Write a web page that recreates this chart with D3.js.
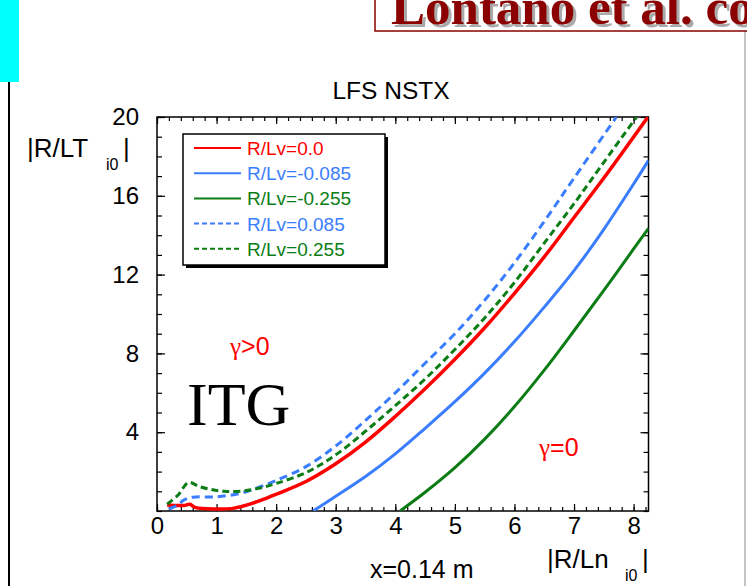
<!DOCTYPE html>
<html>
<head>
<meta charset="utf-8">
<script src="https://cdn.jsdelivr.net/npm/d3@7"></script>
<style>
  body { margin: 0; background: #fff; }
  svg { display: block; font-family: Arial, "Liberation Sans", sans-serif; }
</style>
</head>
<body>
<div id="chart"></div>
<script>
// values, as [|R/Ln_i0|, |R/LT_i0|]
const lv0 = [[0.17,0.3],[0.45,0.28],[0.55,0.34],[0.65,0.17],[1.0,0.1],[1.25,0.12],[1.5,0.3],[1.75,0.55],[2.0,0.85],[2.5,1.5],[3.0,2.4],[3.5,3.5],[4.0,4.8],[4.5,6.2],[5.0,7.7],[5.5,9.3],[6.0,11.05],[6.5,12.9],[7.0,14.9],[7.5,16.9],[8.24,20.0]];
const lvNeg085 = [[2.62,0.0],[3.0,0.75],[3.5,1.75],[4.0,2.9],[4.5,4.2],[5.0,5.55],[5.5,7.0],[6.0,8.6],[6.5,10.35],[7.0,12.2],[7.5,14.3],[8.0,16.6],[8.25,17.8]];
const lvNeg255 = [[4.08,0.0],[4.5,0.95],[5.0,2.2],[5.5,3.65],[6.0,5.3],[6.5,7.15],[7.0,9.15],[7.5,11.2],[8.0,13.3],[8.25,14.35]];
const lvPos085 = [[0.2,0.1],[0.35,0.3],[0.45,0.55],[0.6,0.7],[1.0,0.72],[1.4,0.9],[1.7,1.2],[2.0,1.55],[2.5,2.25],[3.0,3.3],[3.5,4.6],[4.0,6.0],[4.5,7.5],[5.0,9.0],[5.5,10.7],[6.0,12.6],[6.5,14.7],[7.0,16.9],[7.71,20.0]];
const lvPos255 = [[0.17,0.35],[0.35,0.8],[0.53,1.45],[0.7,1.25],[0.9,1.1],[1.12,1.0],[1.4,1.0],[1.7,1.15],[2.0,1.4],[2.5,1.95],[3.0,2.85],[3.5,4.05],[4.0,5.35],[4.5,6.7],[5.0,8.2],[5.5,9.8],[6.0,11.6],[6.5,13.6],[7.0,15.6],[7.5,17.7],[8.05,20.0]];

const seriesNames = ['R/Lv=0.0', 'R/Lv=-0.085', 'R/Lv=-0.255', 'R/Lv=0.085', 'R/Lv=0.255'];
const seriesData = [lv0, lvNeg085, lvNeg255, lvPos085, lvPos255];

const xTicks = [0, 1, 2, 3, 4, 5, 6, 7, 8];
const yTicks = [4, 8, 12, 16, 20];

// styles
const colors = ['#ff0000', '#3a7dff', '#0b7d14', '#3a7dff', '#0b7d14'];
const dashes = [null, null, null, '8,5', '7,4'];

const width = 747, height = 586;
const svg = d3.select('#chart').append('svg').attr('width', width).attr('height', height);

// slide decorations
svg.append('rect').attr('x', 0).attr('y', 0).attr('width', 19).attr('height', 82).attr('fill', '#00ffff');
svg.append('line').attr('x1', 9).attr('x2', 9).attr('y1', 82).attr('y2', height)
    .attr('stroke', '#000').attr('stroke-width', 2);
svg.append('line').attr('x1', 745).attr('x2', 745).attr('y1', 31).attr('y2', height)
    .attr('stroke', '#888').attr('stroke-width', 1);
svg.append('rect').attr('x', 375).attr('y', -5).attr('width', 400).attr('height', 36)
    .attr('fill', '#fff').attr('stroke', '#8b0000').attr('stroke-width', 1.5);
const header = svg.append('g')
    .attr('font-family', '"Liberation Serif", "Times New Roman", serif').attr('font-weight', 'bold')
    .attr('font-size', 51);
header.append('text').attr('x', 394).attr('y', 27).attr('fill', '#aaa').text('Lontano et al. con');
header.append('text').attr('x', 391).attr('y', 24).attr('fill', '#8b0000').text('Lontano et al. con');

// plot
const plotLeft = 157, plotRight = 648.5, plotTop = 117, plotBottom = 511;
const x = d3.scaleLinear().domain([0, 8.25]).range([plotLeft, plotRight]);
const y = d3.scaleLinear().domain([0, 20]).range([plotBottom, plotTop]);

svg.append('text').attr('x', 391).attr('y', 99).attr('text-anchor', 'middle')
    .attr('font-size', 24.5).text('LFS NSTX');

const minorX = d3.range(0, 8.25, 0.2);
const minorY = d3.range(0, 20.01, 1);

function tickAxis(axisFn, scale, values, size, pos, labels) {
    const g = svg.append('g').attr('transform', pos)
        .call(axisFn(scale).tickValues(values).tickSize(size).tickPadding(labels ? 6 : 0)
            .tickFormat(labels ? d3.format('d') : ''));
    g.select('.domain').remove();
    g.selectAll('.tick line').attr('stroke', '#000').attr('stroke-width', 1.2);
    g.selectAll('.tick text').attr('font-size', 24).attr('fill', '#000')
        .attr('font-family', 'Arial, "Liberation Sans", sans-serif');
    return g;
}

tickAxis(d3.axisBottom, x, minorX, -4, `translate(0,${plotBottom})`, false);
tickAxis(d3.axisBottom, x, xTicks, -7, `translate(0,${plotBottom})`, true);
tickAxis(d3.axisTop, x, minorX, -4, `translate(0,${plotTop})`, false);
tickAxis(d3.axisTop, x, xTicks, -7, `translate(0,${plotTop})`, false);
tickAxis(d3.axisLeft, y, minorY, -5, `translate(${plotLeft},0)`, false);
tickAxis(d3.axisLeft, y, yTicks, -8, `translate(${plotLeft},0)`, true)
    .selectAll('.tick text').attr('dx', -12);
tickAxis(d3.axisRight, y, minorY, -5, `translate(${plotRight},0)`, false);
tickAxis(d3.axisRight, y, yTicks, -8, `translate(${plotRight},0)`, false);

svg.append('rect').attr('x', plotLeft).attr('y', plotTop)
    .attr('width', plotRight - plotLeft).attr('height', plotBottom - plotTop)
    .attr('fill', 'none').attr('stroke', '#000').attr('stroke-width', 1.5);

svg.append('clipPath').attr('id', 'plotClip').append('rect')
    .attr('x', plotLeft).attr('y', plotTop).attr('width', plotRight - plotLeft).attr('height', plotBottom - plotTop);

const line = d3.line().x(d => x(d[0])).y(d => y(d[1])).curve(d3.curveCatmullRom.alpha(0.5));

svg.append('g').attr('clip-path', 'url(#plotClip)')
    .selectAll('path').data(seriesData).join('path')
    .attr('d', line)
    .attr('fill', 'none')
    .attr('stroke', (d, i) => colors[i])
    .attr('stroke-width', (d, i) => i === 0 ? 3.5 : 3)
    .attr('stroke-dasharray', (d, i) => dashes[i]);

// legend
const lg = svg.append('g');
lg.append('rect').attr('x', 186).attr('y', 137).attr('width', 202).attr('height', 131).attr('fill', '#000');
lg.append('rect').attr('x', 183).attr('y', 134).attr('width', 202).attr('height', 131)
    .attr('fill', '#fff').attr('stroke', '#000').attr('stroke-width', 1.5);
const rows = lg.selectAll('g.row').data(seriesNames).join('g').attr('class', 'row')
    .attr('transform', (d, i) => `translate(0,${148 + i * 25.2})`);
rows.append('line').attr('x1', 194).attr('x2', 241).attr('y1', 0).attr('y2', 0)
    .attr('stroke', (d, i) => colors[i]).attr('stroke-width', 2)
    .attr('stroke-dasharray', (d, i) => dashes[i] ? '5,3' : null);
rows.append('text').attr('x', 247).attr('y', 7).attr('font-size', 19)
    .attr('fill', (d, i) => colors[i]).text(d => d);

// axis titles
const yl = svg.append('text').attr('x', 27).attr('y', 157).attr('font-size', 26);
yl.append('tspan').text('|R/LT');
yl.append('tspan').attr('x', 106).attr('y', 170).attr('font-size', 16).text('i0');
yl.append('tspan').attr('x', 123).attr('y', 157).text('|');

const xl = svg.append('text').attr('x', 547).attr('y', 568).attr('font-size', 26);
xl.append('tspan').text('|R/Ln');
xl.append('tspan').attr('x', 625).attr('y', 581).attr('font-size', 16).text('i0');
xl.append('tspan').attr('x', 642).attr('y', 568).text('|');

svg.append('text').attr('x', 370).attr('y', 578).attr('font-size', 25).text('x=0.14 m');

// annotations
const g1 = svg.append('text').attr('x', 230).attr('y', 355).attr('font-size', 25).attr('fill', '#ff0000');
g1.append('tspan').attr('font-family', '"Liberation Serif", serif').text('γ');
g1.append('tspan').text('>0');
const g2 = svg.append('text').attr('x', 539).attr('y', 456).attr('font-size', 25).attr('fill', '#ff0000');
g2.append('tspan').attr('font-family', '"Liberation Serif", serif').text('γ');
g2.append('tspan').text('=0');

svg.append('text').attr('x', 187).attr('y', 425).attr('font-size', 62)
    .attr('font-family', '"Liberation Serif", "Times New Roman", serif').text('ITG');
</script>
</body>
</html>
